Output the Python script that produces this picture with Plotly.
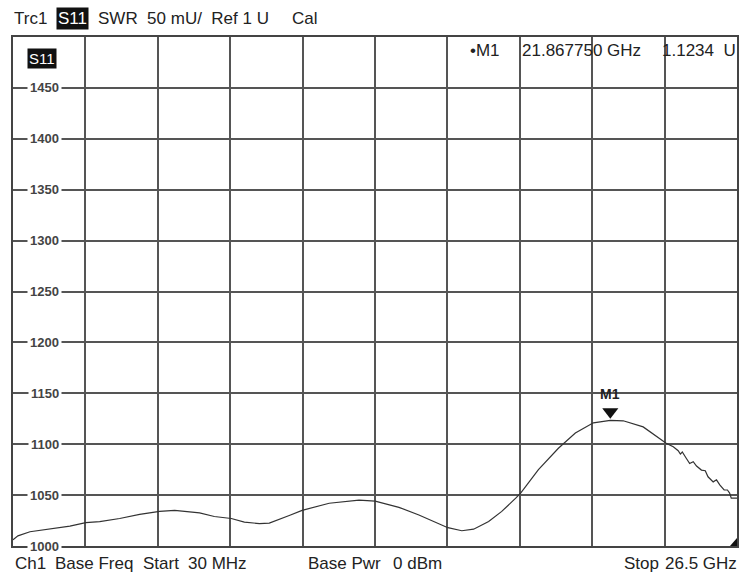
import plotly.graph_objects as go

# ---- data ----
freq_ghz = [0.03, 0.21, 0.65, 1.38, 2.11, 2.69, 3.20, 3.93, 4.66, 5.39,
            5.94, 6.85, 7.39, 8.01, 8.49, 9.04, 9.40, 10.13, 10.60, 11.59,
            12.68, 13.27, 14.14, 14.87, 15.93, 16.44, 16.87, 17.42, 17.90, 18.41,
            18.59, 19.24, 19.97, 20.59, 21.25, 21.86775, 22.34, 23.07, 23.91, 24.17,
            24.35, 24.43, 24.50, 24.65, 24.77, 24.90, 25.02, 25.20, 25.34, 25.44,
            25.63, 25.75, 25.87, 26.03, 26.15, 26.23, 26.29, 26.50]
swr_mu = [1006, 1010, 1014, 1017, 1019.6, 1023, 1024, 1027, 1031, 1034,
          1035, 1032.5, 1029, 1027, 1023.5, 1022, 1022.5, 1030, 1035, 1042,
          1045, 1044, 1038, 1030.5, 1018, 1015, 1016.5, 1024, 1034, 1047,
          1052, 1075, 1096, 1111, 1121, 1123.4, 1123, 1117, 1101, 1097.5,
          1093.6, 1090.3, 1092.3, 1086, 1081, 1082.8, 1078.6, 1074.6, 1074, 1068,
          1063, 1065, 1060, 1055, 1055, 1052, 1047, 1047]
y_ticks = [1000, 1050, 1100, 1150, 1200, 1250, 1300, 1350, 1400, 1450]
marker_name = "M1"
marker_freq = 21.86775
marker_val = 1123.4
f_start, f_stop = 0.03, 26.5
y_min, y_max = 1000, 1500

W, H = 742, 573
L, R, T, B = 13, 739, 37, 546
FONT = "Liberation Sans, Arial, sans-serif"


def pxx(x):
    return (x - L) / (R - L)


def pxy(y):
    return (B - y) / (B - T)


fig = go.Figure()
fig.add_trace(go.Scatter(x=freq_ghz, y=swr_mu, mode="lines",
                         line=dict(color="#333333", width=1.2),
                         hoverinfo="skip", showlegend=False))
# marker triangle
fig.add_trace(go.Scatter(x=[marker_freq], y=[marker_val + 8.5], mode="markers",
                         marker=dict(symbol="triangle-down", size=14, color="#111111",
                                     line=dict(width=0)),
                         hoverinfo="skip", showlegend=False))

ann = []
ann.append(dict(x=marker_freq, y=marker_val, xref="x", yref="y", text="<b>" + marker_name + "</b>",
                showarrow=False, yshift=26, font=dict(size=14, color="#222", family=FONT)))

# y tick labels inside the plot with white background
for v in y_ticks:
    ann.append(dict(x=pxx(45), y=v, xref="paper", yref="y", text="<b>" + str(v) + "</b>",
                    xanchor="center", yanchor="middle",
                    showarrow=False, bgcolor="white", borderpad=2,
                    font=dict(size=13, color="#444444", family=FONT)))


def txt(s, x, y, anchor="left", size=17, color="#222", bg=None):
    d = dict(x=pxx(x), y=pxy(y), xref="paper", yref="paper", text=s, showarrow=False,
             xanchor=anchor, yanchor="middle", font=dict(size=size, color=color, family=FONT))
    if bg:
        d["bgcolor"] = bg
        d["borderpad"] = 1
    ann.append(d)


# header
txt("Trc1", 12, 19)
txt("S11", 56, 19, bg="#111111", color="white")
txt("SWR  50 mU/  Ref 1 U", 96, 19)
txt("Cal", 291, 19)
# S11 badge in plot
txt("S11", 27, 58, bg="#111111", color="white", size=15)
# marker readout
txt("•M1", 469, 50)
txt("21.867750 GHz", 521, 50)
txt("1.1234  U", 662, 50)
# bottom line
txt("Ch1", 13, 563)
txt("Base Freq", 53, 563)
txt("Start", 141, 563)
txt("30 MHz", 186, 563)
txt("Base Pwr", 307, 563)
txt("0 dBm", 392, 563)
txt("Stop", 624, 563)
txt("26.5 GHz", 741, 563, anchor="right")

shapes = [dict(type="path", xref="paper", yref="paper",
               path=f"M {pxx(732)} {pxy(546)} L {pxx(739)} {pxy(546)} L {pxx(739)} {pxy(538)} Z",
               fillcolor="#111111", line=dict(width=0))]

axis_common = dict(showgrid=True, gridcolor="#555555", gridwidth=1.5,
                   showline=True, linecolor="#444444", linewidth=2, mirror=True,
                   zeroline=False, showticklabels=False, ticks="", fixedrange=True)

fig.update_layout(
    width=W, height=H,
    margin=dict(l=L, r=W - R, t=T, b=H - B, pad=0),
    paper_bgcolor="white", plot_bgcolor="white",
    xaxis=dict(range=[f_start, f_stop], tick0=f_start, dtick=(f_stop - f_start) / 10,
               **axis_common),
    yaxis=dict(range=[y_min, y_max], tick0=y_min, dtick=50, **axis_common),
    annotations=ann, shapes=shapes, showlegend=False,
)

fig.write_html("out.html",
               post_script="document.documentElement.style.margin='0';document.body.style.margin='0';document.body.style.padding='0';document.body.style.overflow='hidden';",
               config={"displayModeBar": False})
